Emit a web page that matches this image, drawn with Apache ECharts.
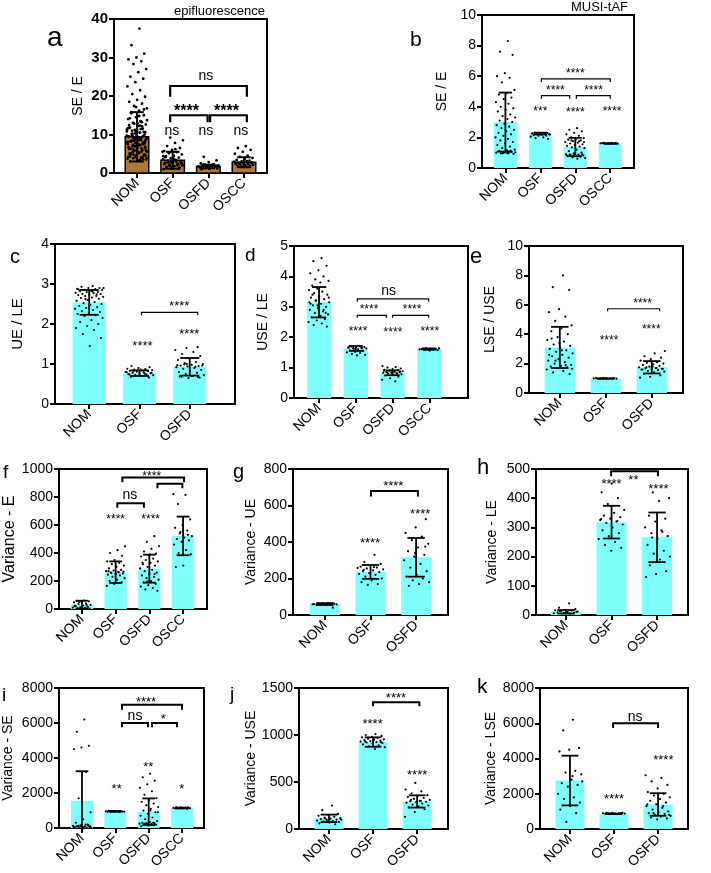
<!DOCTYPE html>
<html><head><meta charset="utf-8">
<script src="https://cdn.jsdelivr.net/npm/echarts@6/dist/echarts.min.js"></script>
<style>html,body{margin:0;padding:0;background:#fff}#c{width:711px;height:873px}</style>
</head><body><div id="c"></div><script>
// ---------- categories ----------
const cats4 = ['NOM', 'OSF', 'OSFD', 'OSCC'];
const cats3 = ['NOM', 'OSF', 'OSFD'];

// ---------- panel a : SE / E (epifluorescence) ----------
const a_mean = [9.4, 3.3, 1.7, 2.8];
const a_sd = [6.4, 2.2, 0.45, 1.3];
const a_NOM = [37.5, 33.2, 31, 30, 29.5, 29, 28.3, 27, 26.2, 25, 24.5, 23.6, 22.5, 21.5, 20.5, 19.8, 19, 18.5, 18, 17.4, 16.8, 16.2, 15.5, 15, 14.5, 14, 13.5, 13, 12.6, 12.2, 11.8, 11.5, 11.2, 10.8, 10.5, 10.2, 10, 9.8, 9.5, 9.2, 9, 8.8, 8.5, 8.2, 8, 7.8, 7.5, 7.2, 7, 6.8, 6.5, 6.2, 6, 5.8, 5.5, 5.2, 5, 4.8, 4.5, 4.2, 4, 3.8, 3.5, 3.2, 3, 9.6, 8.7, 7.9, 10.4, 11, 6.6, 5.9, 12.4, 13.2, 8.3, 9.1, 7.4, 6.3, 10.7, 9.3, 8.1, 11.4, 5.4, 4.6, 12.9, 14.2, 7.7, 6.9,
  9.7, 8.9, 8.4, 7.6, 7.1, 6.7, 6.4, 6.1, 5.7, 5.3, 4.9, 4.4, 4.1, 3.7, 3.4, 10.1, 10.6, 11.1, 11.7, 12.1, 12.8, 13.7, 14.8, 15.8, 16.5, 17.1, 9.4, 8.6, 7.3, 6.0, 5.1, 4.3, 3.6, 10.3, 11.3, 12.3, 9.9, 8.0, 7.0, 6.4, 5.6, 4.7, 3.9, 9.0, 8.2, 7.5, 10.9, 11.6, 13.4, 9.5, 8.5, 6.8, 5.0, 4.0];
const a_OSF = [9.2, 8.5, 7.8, 7, 6.5, 6, 5.7, 5.4, 5.1, 4.8, 4.5, 4.3, 4, 3.8, 3.6, 3.4, 3.2, 3, 2.8, 2.6, 2.4, 2.2, 2, 1.8, 1.6, 1.4, 1.2, 1.0, 3.3, 2.9, 2.5, 3.7, 4.1, 2.1, 1.7, 5.5, 6.2, 2.7, 3.1, 1.5, 2.3, 2.0, 1.9, 2.6, 3.5, 1.3, 1.1, 2.8, 4.4, 3.0];
const a_OSFD = [4.2, 3.3, 2.8, 2.5, 2.3, 2.1, 2.0, 1.9, 1.8, 1.7, 1.6, 1.5, 1.4, 1.3, 1.2, 1.1, 1.0, 1.8, 1.6, 1.7, 1.5, 2.2, 1.9, 1.4, 1.6, 2.0, 1.3, 1.75];
const a_OSCC = [7, 6.5, 6, 5.5, 5, 4.5, 4.2, 3.9, 3.6, 3.4, 3.2, 3, 2.9, 2.8, 2.7, 2.6, 2.5, 2.4, 2.3, 2.2, 2.1, 2, 1.9, 1.8, 1.6, 2.9, 3.1, 2.5, 2.7, 3.3];
const a_brackets = [[0.93, 3.08, 22.6, 19.8], [0.93, 1.98, 15, 13.2], [2.05, 3.08, 15, 13.2]];
const a_labels = [[1.93, 25.2, 'ns'], [1.39, 17.2, '****'], [2.51, 17.2, '****'], [0.98, 11, 'ns'], [1.93, 11, 'ns'], [2.91, 11, 'ns']];

// ---------- panel b : SE / E (MUSI-tAF) ----------
const b_mean = [3.0, 2.25, 1.37, 1.6];
const b_sd = [1.93, 0.06, 0.6, 0.02];
const b_NOM = [8.3, 7.6, 7.4, 6.2, 6.0, 5.9, 5.6, 5.1, 4.9, 4.8, 4.6, 4.5, 4.3, 4.2, 4.0, 3.9, 3.8, 3.7, 3.5, 3.4, 3.3, 3.2, 3.1, 3.0, 2.9, 2.8, 2.7, 2.6, 2.5, 2.4, 2.3, 2.2, 2.1, 2.0, 1.9, 1.8, 1.7, 1.6, 1.5, 1.4, 1.3, 1.2, 1.15, 1.1, 1.05, 1.0, 1.0, 0.98, 0.95, 0.92, 1.02, 1.08, 1.12, 0.97, 1.03, 0.96];
const b_OSF = [2.3, 2.28, 2.26, 2.25, 2.24, 2.22, 2.2, 2.18, 2.15, 2.12, 2.1, 2.05, 2.0, 1.95, 1.9, 2.25, 2.27, 2.23, 2.21, 2.19];
const b_OSFD = [2.6, 2.5, 2.4, 2.3, 2.2, 2.1, 2.0, 1.95, 1.9, 1.85, 1.8, 1.75, 1.7, 1.65, 1.6, 1.55, 1.5, 1.45, 1.4, 1.35, 1.3, 1.2, 1.1, 1.0, 0.95, 0.9, 0.88, 0.85, 0.82, 0.8, 0.78, 0.75, 0.7, 0.65, 0.6, 0.87, 0.9, 0.85, 0.83, 1.75, 1.8, 1.7];
const b_OSCC = [1.65, 1.64, 1.63, 1.62, 1.61, 1.6, 1.6, 1.59, 1.58, 1.62, 1.61, 1.6];
const b_brackets = [[1.03, 3.0, 5.82, 5.62], [1.03, 1.84, 4.73, 4.53], [2.03, 3.0, 4.73, 4.53]];
const b_labels = [[2.0, 6.4, '****'], [1.43, 5.27, '****'], [2.52, 5.27, '****'], [1.0, 3.91, '***'], [2.0, 3.85, '****'], [3.05, 3.9, '****']];

// ---------- panel c : UE / LE ----------
const c_mean = [2.54, 0.77, 0.93];
const c_sd = [0.31, 0.07, 0.22];
const c_NOM = [2.95, 2.93, 2.9, 2.9, 2.88, 2.87, 2.85, 2.85, 2.83, 2.82, 2.8, 2.8, 2.78, 2.77, 2.75, 2.75, 2.73, 2.72, 2.7, 2.7, 2.68, 2.66, 2.65, 2.63, 2.6, 2.58, 2.55, 2.52, 2.5, 2.48, 2.45, 2.42, 2.4, 2.38, 2.35, 2.32, 2.3, 2.27, 2.25, 2.22, 2.2, 2.15, 2.1, 2.05, 2.0, 1.95, 1.9, 1.85, 1.75, 1.65, 1.45, 2.86, 2.74, 2.62, 2.9, 2.81];
const c_OSF = [0.95, 0.92, 0.9, 0.88, 0.87, 0.86, 0.85, 0.84, 0.83, 0.82, 0.81, 0.8, 0.79, 0.78, 0.77, 0.76, 0.75, 0.74, 0.73, 0.72, 0.7, 0.68, 0.66, 0.84, 0.8, 0.76, 0.82, 0.78, 0.86, 0.74];
const c_OSFD = [1.42, 1.4, 1.35, 1.3, 1.25, 1.2, 1.15, 1.1, 1.05, 1.02, 1.0, 0.98, 0.96, 0.95, 0.94, 0.92, 0.9, 0.88, 0.85, 0.82, 0.8, 0.78, 0.75, 0.72, 0.7, 0.68, 0.66, 0.65, 0.97, 0.93, 0.99, 0.96, 0.7, 0.69, 0.67, 1.0];
const c_brackets = [[1.04, 2.16, 2.29, 2.22]];
const c_labels = [[1.79, 2.52, '****'], [1.06, 1.52, '****'], [1.99, 1.83, '****']];

// ---------- panel d : USE / LE ----------
const d_mean = [3.15, 1.63, 0.83, 1.61];
const d_sd = [0.5, 0.08, 0.08, 0.02];
const d_NOM = [4.6, 4.5, 4.35, 4.2, 4.1, 4.0, 3.9, 3.85, 3.8, 3.7, 3.65, 3.6, 3.55, 3.5, 3.45, 3.4, 3.35, 3.3, 3.25, 3.2, 3.15, 3.1, 3.05, 3.0, 2.95, 2.9, 2.85, 2.8, 2.75, 2.7, 2.65, 2.6, 2.55, 2.5, 2.45, 2.4, 2.35, 3.0, 3.1, 2.9, 3.2, 3.3, 2.7, 3.4, 2.8, 3.05, 3.15];
const d_OSF = [1.7, 1.69, 1.68, 1.67, 1.66, 1.65, 1.64, 1.63, 1.6, 1.57, 1.55, 1.52, 1.5, 1.48, 1.45, 1.42, 1.4, 1.66, 1.64, 1.62];
const d_OSFD = [1.05, 1.02, 1.0, 0.97, 0.95, 0.93, 0.92, 0.9, 0.88, 0.87, 0.86, 0.85, 0.84, 0.83, 0.82, 0.8, 0.78, 0.76, 0.74, 0.7, 0.65, 0.6, 0.55, 0.85, 0.87, 0.83, 0.9, 0.8];
const d_OSCC = [1.64, 1.63, 1.62, 1.62, 1.61, 1.6, 1.6, 1.59, 1.58, 1.57, 1.56, 1.61];
const d_brackets = [[1.04, 2.98, 3.26, 3.17], [1.04, 1.83, 2.72, 2.64], [2.0, 2.98, 2.72, 2.64]];
const d_labels = [[1.89, 3.5, 'ns'], [1.36, 3.0, '****'], [2.53, 3.0, '****'], [1.06, 2.29, '****'], [2.01, 2.26, '****'], [3.01, 2.29, '****']];

// ---------- panel e : LSE / USE ----------
const e_mean = [3.1, 0.98, 1.75];
const e_sd = [1.4, 0.01, 0.42];
const e_NOM = [8.0, 7.2, 7.0, 5.7, 5.5, 5.2, 4.9, 4.6, 4.4, 4.2, 4.0, 3.8, 3.6, 3.5, 3.3, 3.2, 3.1, 3.0, 2.9, 2.8, 2.7, 2.6, 2.5, 2.4, 2.3, 2.2, 2.1, 2.0, 1.9, 1.85, 1.8, 1.75, 1.7, 1.6, 1.5, 1.4, 1.3, 3.4, 2.6, 1.9, 2.2, 1.65, 2.9, 3.7];
const e_OSF = [1.02, 1.01, 1.0, 1.0, 0.99, 0.98, 1.0, 1.01, 0.99, 1.0];
const e_OSFD = [2.85, 2.7, 2.5, 2.4, 2.3, 2.2, 2.1, 2.05, 2.0, 1.95, 1.9, 1.85, 1.8, 1.75, 1.7, 1.68, 1.65, 1.62, 1.6, 1.55, 1.5, 1.45, 1.4, 1.3, 1.2, 1.1, 1.05, 1.7, 1.75, 1.65, 1.8, 1.6];
const e_brackets = [[1.04, 2.17, 5.73, 5.56]];
const e_labels = [[1.8, 6.28, '****'], [1.07, 3.79, '****'], [1.99, 4.56, '****']];

// ---------- panel f : Variance - E ----------
const f_mean = [31, 263, 288, 522];
const f_sd = [28, 77, 100, 138];
const f_NOM = [60, 58, 55, 52, 48, 40, 35, 30, 25, 20, 15, 12, 10, 8, 5, 3, 18, 22, 28, 50];
const f_OSF = [448, 420, 400, 380, 350, 340, 330, 320, 310, 300, 290, 280, 275, 270, 265, 260, 255, 250, 245, 240, 230, 220, 210, 200, 190, 180, 165, 262, 258, 268, 250, 270];
const f_OSFD = [520, 480, 450, 430, 410, 395, 385, 375, 360, 350, 340, 330, 320, 310, 300, 290, 280, 270, 260, 250, 240, 230, 220, 210, 200, 190, 180, 170, 160, 150, 140, 130, 390, 330, 250, 195];
const f_OSCC = [820, 815, 750, 640, 600, 580, 560, 540, 520, 510, 500, 490, 480, 460, 420, 400, 390, 310, 300, 530, 550];
const f_brackets = [[1.2, 3.03, 940, 905], [2.24, 2.98, 895, 862], [1.05, 1.84, 755, 724]];
const f_labels = [[2.07, 970, '****'], [1.42, 815, 'ns'], [1.0, 664, '****'], [2.04, 664, '****']];

// ---------- panel g : Variance - UE ----------
const g_mean = [60, 236, 316];
const g_sd = [5, 38, 106];
const g_NOM = [65, 63, 62, 61, 60, 60, 59, 58, 57, 56, 40, 62, 59];
const g_OSF = [330, 290, 280, 270, 265, 260, 255, 250, 245, 240, 235, 230, 225, 220, 210, 200, 190, 180, 170, 165, 258, 262, 248];
const g_OSFD = [525, 480, 450, 430, 410, 390, 370, 350, 330, 320, 300, 280, 260, 240, 220, 210, 200, 190, 180, 170, 160, 375, 340];
const g_brackets = [[1.01, 2.04, 680, 650]];
const g_labels = [[1.5, 722, '****'], [0.99, 413, '****'], [2.09, 571, '****']];

// ---------- panel h : Variance - LE ----------
const h_mean = [11, 318, 266];
const h_sd = [6, 56, 85];
const h_NOM = [40, 25, 20, 18, 16, 15, 14, 12, 10, 9, 8, 7, 6, 5, 13, 11];
const h_OSF = [450, 420, 400, 380, 360, 350, 340, 335, 330, 325, 320, 315, 310, 300, 290, 280, 270, 260, 250, 240, 230, 220, 328, 322];
const h_OSFD = [420, 400, 390, 340, 330, 320, 300, 290, 280, 270, 260, 240, 220, 210, 200, 190, 170, 150, 140, 130, 285, 265];
const h_brackets = [[0.99, 2.02, 492, 475]];
const h_labels = [[1.48, 475, '**'], [1.0, 461, '****'], [2.03, 443, '****']];

// ---------- panel i : Variance - SE ----------
const i_mean = [1543, 950, 930, 1143];
const i_sd = [1700, 20, 760, 25];
const i_NOM = [6200, 5500, 4700, 4600, 4500, 3200, 1700, 900, 500, 300, 200, 150, 120, 100, 80, 60, 50, 40, 30, 20, 10, 5, 100, 150, 80, 60, 200, 120, 90, 70];
const i_OSF = [980, 970, 960, 955, 950, 945, 940, 935, 930, 925, 950, 940];
const i_OSFD = [3100, 2900, 2700, 2500, 2300, 2100, 1900, 1700, 1600, 1500, 1400, 1300, 1200, 1100, 1000, 900, 800, 700, 600, 500, 400, 350, 300, 280, 260, 250, 240, 220, 200, 150, 100, 300, 260, 900, 1000];
const i_OSCC = [1180, 1170, 1160, 1150, 1145, 1140, 1135, 1130, 1120, 1110, 1150];
const i_brackets = [[1.2, 3.0, 7048, 6762], [1.2, 1.98, 6000, 5752], [2.1, 2.85, 6000, 5752]];
const i_labels = [[1.92, 7390, '****'], [1.59, 6419, 'ns'], [2.44, 6400, '*'], [1.04, 2438, '**'], [1.99, 3657, '**'], [2.99, 2438, '*']];

// ---------- panel j : Variance - USE ----------
const j_mean = [113, 925, 293];
const j_sd = [40, 50, 65];
const j_NOM = [250, 200, 160, 150, 140, 130, 120, 115, 110, 105, 100, 95, 90, 85, 80, 75, 70, 60, 50, 110, 100];
const j_OSF = [1010, 1000, 990, 980, 975, 970, 960, 955, 950, 945, 940, 935, 930, 925, 920, 915, 910, 900, 890, 880, 870, 850, 930, 925];
const j_OSFD = [490, 420, 400, 380, 360, 350, 340, 330, 320, 310, 300, 295, 290, 285, 280, 270, 260, 250, 240, 230, 210, 180, 130, 300, 310];
const j_brackets = [[1.0, 2.05, 1349, 1306]];
const j_labels = [[1.52, 1429, '****'], [0.99, 1154, '****'], [2.0, 610, '****']];

// ---------- panel k : Variance - LSE ----------
const k_mean = [2750, 860, 1390];
const k_sd = [1410, 15, 640];
const k_NOM = [6200, 5600, 4600, 4500, 4400, 3300, 3200, 3100, 2800, 2600, 2500, 2400, 2000, 1800, 1700, 1500, 1300, 1100, 900, 400, 2700, 3000];
const k_OSF = [920, 910, 900, 895, 890, 885, 880, 875, 870, 900, 890];
const k_OSFD = [3050, 2900, 2700, 2500, 2300, 2100, 2000, 1900, 1800, 1700, 1600, 1500, 1400, 1300, 1200, 1100, 1000, 950, 900, 850, 800, 750, 700, 650, 600, 550, 1400, 1300, 900, 800];
const k_brackets = [[0.98, 2.0, 6000, 5725]];
const k_labels = [[1.48, 6350, 'ns'], [1.0, 1896, '****'], [2.12, 4114, '****']];

// ---------- assemble panels (layout kept separate from data) ----------
const FONT = '"Liberation Sans", Arial, Helvetica, sans-serif';
const CYAN = '#80ffff';
const panels = [
  {id:'a', cats:cats4, mean:a_mean, sd:a_sd, groups:[a_NOM,a_OSF,a_OSFD,a_OSCC], br:a_brackets, lab:a_labels, name:'SE / E',
   rect:[114,19,153,154], xr:[-0.645,3.645], ymax:40, step:10, gap:29, nameSize:14, color:'#b07539', border:true, bold:true, brW:2.2, starSize:16, starBold:true, dotR:1.4, errW:2},
  {id:'b', cats:cats4, mean:b_mean, sd:b_sd, groups:[b_NOM,b_OSF,b_OSFD,b_OSCC], br:b_brackets, lab:b_labels, name:'SE / E',
   rect:[482,15,152,153], xr:[-0.67,3.68], ymax:10, step:2, gap:33, nameSize:14, brW:1.2, starSize:12},
  {id:'c', cats:cats3, mean:c_mean, sd:c_sd, groups:[c_NOM,c_OSF,c_OSFD], br:c_brackets, lab:c_labels, name:'UE / LE',
   rect:[55,244,180,160], xr:[-0.68,2.9], ymax:4, step:1, gap:30, nameSize:15, brW:1.2, starSize:13},
  {id:'d', cats:cats4, mean:d_mean, sd:d_sd, groups:[d_NOM,d_OSF,d_OSFD,d_OSCC], br:d_brackets, lab:d_labels, name:'USE / LE',
   rect:[294,246,174,152], xr:[-0.68,4.05], ymax:5, step:1, gap:24, nameSize:14, brW:1.2, starSize:12},
  {id:'e', cats:cats3, mean:e_mean, sd:e_sd, groups:[e_NOM,e_OSF,e_OSFD], br:e_brackets, lab:e_labels, name:'LSE / USE',
   rect:[529,246,154,147], xr:[-0.67,2.68], ymax:10, step:2, gap:32, nameSize:14, brW:1.2, starSize:12},
  {id:'f', cats:cats4, mean:f_mean, sd:f_sd, groups:[f_NOM,f_OSF,f_OSFD,f_OSCC], br:f_brackets, lab:f_labels, name:'Variance - E',
   rect:[59,469,148,140], xr:[-0.68,3.71], ymax:1000, step:200, gap:40, nameSize:16, brW:2, starSize:12},
  {id:'g', cats:cats3, mean:g_mean, sd:g_sd, groups:[g_NOM,g_OSF,g_OSFD], br:g_brackets, lab:g_labels, name:'Variance - UE',
   rect:[293,469,155,146], xr:[-0.70,2.70], ymax:800, step:200, gap:35, nameSize:14, brW:2, starSize:13},
  {id:'h', cats:cats3, mean:h_mean, sd:h_sd, groups:[h_NOM,h_OSF,h_OSFD], br:h_brackets, lab:h_labels, name:'Variance - LE',
   rect:[536,469,152,146], xr:[-0.66,2.68], ymax:500, step:100, gap:37, nameSize:14, brW:2, starSize:13},
  {id:'i', cats:cats4, mean:i_mean, sd:i_sd, groups:[i_NOM,i_OSF,i_OSFD,i_OSCC], br:i_brackets, lab:i_labels, name:'Variance - SE',
   rect:[59,688,145,140], xr:[-0.69,3.66], ymax:8000, step:2000, gap:44, nameSize:14, brW:2, starSize:13},
  {id:'j', cats:cats3, mean:j_mean, sd:j_sd, groups:[j_NOM,j_OSF,j_OSFD], br:j_brackets, lab:j_labels, name:'Variance - USE',
   rect:[299,688,149,141], xr:[-0.68,2.70], ymax:1500, step:500, gap:41, nameSize:14, brW:2, starSize:13},
  {id:'k', cats:cats3, mean:k_mean, sd:k_sd, groups:[k_NOM,k_OSF,k_OSFD], br:k_brackets, lab:k_labels, name:'Variance - LSE',
   rect:[540,688,148,141], xr:[-0.68,2.68], ymax:8000, step:2000, gap:42, nameSize:14, brW:2, starSize:13}
];

const grids = [], xAxes = [], yAxes = [], series = [];
panels.forEach((p, k) => {
  const [L, T, W, H] = p.rect;
  grids.push({left:L, top:T, width:W, height:H, show:true, borderColor:'#000', borderWidth:2, backgroundColor:'transparent'});
  const idx = p.cats.map((_, i) => i);
  xAxes.push({type:'value', gridIndex:k, min:p.xr[0], max:p.xr[1],
    axisLine:{show:true, onZero:false, lineStyle:{color:'#000', width:2}},
    axisTick:{show:true, customValues:idx, length:5, lineStyle:{color:'#000', width:2}},
    axisLabel:{customValues:idx, formatter:v => p.cats[Math.round(v)], rotate:45, fontSize:14, color:'#000', fontFamily:FONT, margin:8},
    splitLine:{show:false}});
  yAxes.push({type:'value', gridIndex:k, min:0, max:p.ymax, interval:p.step,
    axisLine:{show:true, onZero:false, lineStyle:{color:'#000', width:2}},
    axisTick:{show:true, length:5, lineStyle:{color:'#000', width:2}},
    axisLabel:{fontSize:p.bold ? 15 : 14, color:'#000', fontFamily:FONT, fontWeight:p.bold ? 'bold' : 'normal', margin:6, formatter:v => String(v)},
    splitLine:{show:false},
    name:p.name, nameLocation:'middle', nameGap:p.gap,
    nameTextStyle:{fontSize:p.nameSize, color:'#000', fontFamily:FONT}});
  const base = {type:'custom', coordinateSystem:'cartesian2d', xAxisIndex:k, yAxisIndex:k, silent:true, animation:false};
  // bars
  series.push(Object.assign({}, base, {
    data: p.mean.map((m, i) => [i, m]),
    renderItem: (params, api) => {
      const x = api.value(0), y = api.value(1);
      const p0 = api.coord([x - 0.33, y]), p1 = api.coord([x + 0.33, 0]);
      return {type:'rect', shape:{x:p0[0], y:p0[1], width:p1[0]-p0[0], height:p1[1]-p0[1]},
        style:{fill:p.color || CYAN, stroke:p.border ? '#000' : null, lineWidth:p.border ? 1.5 : 0}};
    }, z:1}));
  // dots
  const dots = [];
  p.groups.forEach((g, gi) => g.forEach(v => dots.push([gi, v])));
  series.push(Object.assign({}, base, {
    data: dots,
    renderItem: (params, api) => {
      const c = api.coord([api.value(0), api.value(1)]);
      const w = api.size([1, 0])[0];
      const j = ((((params.dataIndex + 1) * 0.6180339887) % 1) - 0.5) * 0.58 * w;
      return {type:'circle', shape:{cx:c[0] + j, cy:c[1], r:p.dotR || 1.1}, style:{fill:'#000'}};
    }, z:2}));
  // error bars (mean ± SD)
  series.push(Object.assign({}, base, {
    data: p.mean.map((m, i) => [i, m, p.sd[i]]),
    renderItem: (params, api) => {
      const x = api.value(0), m = api.value(1), s = api.value(2);
      const hi = api.coord([x, m + s]), lo = api.coord([x, Math.max(0, m - s)]);
      const cw = api.size([0.38, 0])[0] / 2;
      const st = {stroke:'#000', lineWidth:p.errW || 1.8};
      const ch = [
        {type:'line', shape:{x1:hi[0], y1:hi[1], x2:lo[0], y2:lo[1]}, style:st},
        {type:'line', shape:{x1:hi[0]-cw, y1:hi[1], x2:hi[0]+cw, y2:hi[1]}, style:st}];
      if (m - s > 0) ch.push({type:'line', shape:{x1:lo[0]-cw, y1:lo[1], x2:lo[0]+cw, y2:lo[1]}, style:st});
      return {type:'group', children:ch};
    }, z:3}));
  // brackets
  series.push(Object.assign({}, base, {
    data: p.br,
    renderItem: (params, api) => {
      const x1 = api.value(0), x2 = api.value(1), y = api.value(2), yl = api.value(3);
      const A = api.coord([x1, y]), B = api.coord([x2, y]), Ly = api.coord([x1, yl])[1];
      return {type:'polyline', shape:{points:[[A[0], Ly], A, B, [B[0], Ly]]},
        style:{stroke:'#000', fill:null, lineWidth:p.brW}};
    }, z:4}));
  // significance labels
  series.push(Object.assign({}, base, {
    data: p.lab.map(l => [l[0], l[1]]),
    renderItem: (params, api) => {
      const l = p.lab[params.dataIndex];
      const c = api.coord([api.value(0), api.value(1)]);
      const star = l[2].indexOf('*') >= 0;
      const fs = star ? p.starSize : 14;
      return {type:'text', x:c[0], y:c[1] + (star ? fs * 0.28 : 0),
        style:{text:l[2], fill:'#000', fontSize:fs, fontFamily:FONT, fontWeight:(star && p.starBold) ? 'bold' : 'normal',
          align:'center', verticalAlign:'middle'}};
    }, z:5}));
});

// panel letters and titles
const letters = [['a',47,38,28],['b',410,40,21],['c',10,257,20],['d',245,256,19],['e',470,257,22],['f',3,473,19],
  ['g',233,472,20],['h',477,468,22],['i',2,696,19],['j',230,695,19],['k',477,687,21]];
const graphics = letters.map(l => ({type:'text', x:l[1], y:l[2],
  style:{text:l[0], fontSize:l[3], fontFamily:FONT, fill:'#000', align:'left', verticalAlign:'middle'}}));
graphics.push({type:'text', x:265, y:11, style:{text:'epifluorescence', fontSize:13, fontFamily:FONT, fill:'#000', align:'right', verticalAlign:'middle'}});
graphics.push({type:'text', x:628, y:7, style:{text:'MUSI-tAF', fontSize:13, fontFamily:FONT, fill:'#000', align:'right', verticalAlign:'middle'}});

const chart = echarts.init(document.getElementById('c'), null, {renderer:'canvas'});
chart.setOption({animation:false, backgroundColor:'#fff', grid:grids, xAxis:xAxes, yAxis:yAxes, series:series, graphic:graphics});
</script></body></html>
